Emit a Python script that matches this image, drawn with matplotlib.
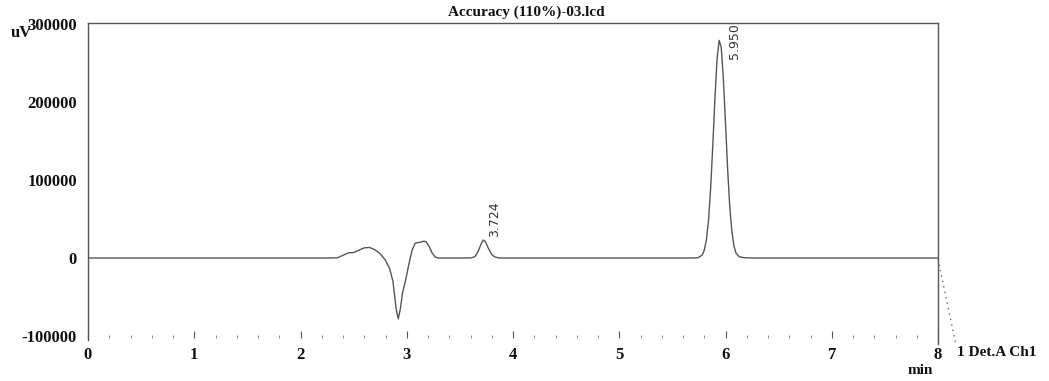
import matplotlib
matplotlib.use("Agg")
import matplotlib.pyplot as plt
import numpy as np

# chromatogram points (time in min, signal in uV)
t_vals = [0.00, 2.30, 2.35, 2.40, 2.45, 2.50, 2.55, 2.60, 2.65, 2.70, 2.75,
          2.80, 2.84, 2.87, 2.90, 2.92, 2.94, 2.96, 2.99, 3.02, 3.05, 3.08,
          3.12, 3.16, 3.18, 3.21, 3.24, 3.27, 3.30,
          3.60, 3.64, 3.67, 3.70, 3.72, 3.74, 3.77, 3.80, 3.83, 3.87,
          5.70, 5.74, 5.78, 5.80, 5.82, 5.84, 5.86, 5.88, 5.90, 5.92, 5.94,
          5.96, 5.98, 6.00, 6.02, 6.04, 6.06, 6.08, 6.10, 6.13, 6.18, 6.25,
          8.00]
signal = [0, 0, 300, 3500, 6500, 7000, 10000, 13000, 13500, 10500, 5500,
          -3000, -14000, -30000, -65000, -78000, -65000, -45000, -28000, -8000, 10000, 19000,
          20000, 21500, 21000, 15000, 6000, 1000, 0,
          0, 1500, 8000, 18000, 23000, 21000, 12000, 4500, 1200, 0,
          0, 300, 3600, 9800, 23000, 48000, 89000, 143000, 203000, 254000, 279000,
          270000, 230000, 173000, 114000, 66000, 34000, 15000, 6000, 1500, 300, 0,
          0]

peak_times = [3.724, 5.950]
peak_heights = [23000, 279000]
peak_offsets = [(11, 3), (14, -19)]

yticks = [-100000, 0, 100000, 200000, 300000]

plt.rcParams["font.family"] = ["Liberation Serif", "DejaVu Serif"]
plt.rcParams["font.weight"] = "bold"

fig = plt.figure(figsize=(10.49, 3.81), dpi=100)
ax = fig.add_axes([88/1049, 1 - 338.3/381, 850/1049, (338.3 - 23)/381])

ax.plot(t_vals, signal, color="#555555", lw=1.0)

for pt, ph, off in zip(peak_times, peak_heights, peak_offsets):
    ax.annotate("%.3f" % pt, xy=(pt, ph), xytext=off, textcoords="offset pixels",
                rotation=90, ha="center", va="bottom", fontsize=9,
                fontweight="normal", family="DejaVu Sans", color="#333333")

ax.set_xlim(0, 8)
ax.set_ylim(-103000, 301300)
ax.set_yticks(yticks)
ax.set_yticklabels([str(v) for v in yticks])
ax.set_xticks(range(9))
ax.set_xticks(np.arange(0, 8.01, 0.2), minor=True)

ax.spines["bottom"].set_visible(False)
for s in ["left", "top", "right"]:
    ax.spines[s].set_color("#555555")
    ax.spines[s].set_linewidth(1.0)
ax.spines["left"].set_bounds(-105000, 301300)
ax.spines["right"].set_bounds(-110000, 301300)
ax.spines["left"].set_clip_on(False)

ax.tick_params(axis="y", length=0, pad=8, labelsize=12, colors="#111111")
ax.tick_params(axis="x", which="major", direction="in", length=5, pad=6,
               labelsize=12, colors="#555555", labelcolor="#111111")
ax.tick_params(axis="x", which="minor", direction="in", length=2, color="#777777")

fig.text(526/1049, 1 - 12/381, "Accuracy (110%)-03.lcd", ha="center", va="center",
         fontsize=11, color="#111111")
fig.text(11/1049, 1 - 33/381, "uV", ha="left", va="center", fontsize=12, color="#111111")
fig.text(920/1049, 1 - 370/381, "min", ha="center", va="center", fontsize=11, color="#111111")
fig.text(957/1049, 1 - 353/381, "1 Det.A Ch1", ha="left", va="center", fontsize=11, color="#111111")
fig.add_artist(plt.Line2D([938/1049, 956/1049], [1 - 259/381, 1 - 345/381],
                          transform=fig.transFigure, color="#666666", lw=1, ls=(0, (1, 3))))

fig.savefig("out.png", dpi=100)
